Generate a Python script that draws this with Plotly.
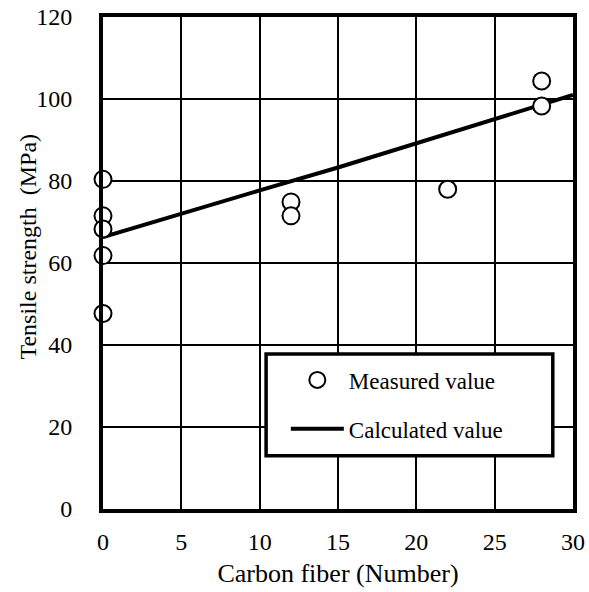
import plotly.graph_objects as go

# Measured values
meas_x = [0, 0, 0, 0, 0, 12, 12, 22, 28, 28]
meas_y = [80.4, 71.5, 68.3, 61.8, 47.7, 74.9, 71.5, 78.0, 104.4, 98.3]

# Calculated values
calc_x = [0, 5, 10, 15, 20, 25, 30]
calc_y = [66.3, 72.1, 77.7, 83.3, 89.2, 94.9, 101.0]

x_ticks = [0, 5, 10, 15, 20, 25, 30]
y_ticks = [0, 20, 40, 60, 80, 100, 120]

x_title = "Carbon fiber (Number)"
y_title = "Tensile strength\u00a0 (MPa)"

FONT = "Liberation Serif, Times New Roman, serif"

fig = go.Figure()
fig.add_trace(go.Scatter(
    x=calc_x, y=calc_y, mode="lines", name="Calculated value",
    line=dict(color="black", width=4), legendgroup="b", legendrank=2,
    cliponaxis=False,
))
fig.add_trace(go.Scatter(
    x=meas_x, y=meas_y, mode="markers", name="Measured value",
    marker=dict(symbol="circle", size=17, color="white",
                line=dict(color="black", width=2)),
    legendgroup="a", legendrank=1, cliponaxis=False,
))

fig.update_layout(
    width=589, height=592,
    margin=dict(l=103, r=16, t=17, b=83),
    paper_bgcolor="white", plot_bgcolor="white",
    font=dict(family=FONT, size=24, color="black"),
    showlegend=True,
    legend=dict(
        x=0.389, y=0.306, xanchor="left", yanchor="top",
        bgcolor="rgba(0,0,0,0)", borderwidth=0,
        font=dict(family=FONT, size=23, color="black"),
        itemwidth=53, tracegroupgap=16,
    ),
    shapes=[dict(
        type="rect", xref="paper", yref="paper",
        x0=0.347, x1=0.957, y0=0.108, y1=0.315,
        fillcolor="white", line=dict(color="black", width=3.5),
        layer="above",
    )],
    annotations=[dict(
        text=y_title, xref="paper", yref="paper",
        x=-0.16, y=0.533, xanchor="center", yanchor="middle",
        textangle=-90, showarrow=False,
        font=dict(family=FONT, size=24, color="black"),
    )],
)

fig.update_xaxes(
    range=[0, 30], tickvals=x_ticks, ticktext=[str(v) for v in x_ticks],
    showgrid=True, gridcolor="black", gridwidth=2,
    showline=True, linecolor="black", linewidth=4, mirror=True,
    zeroline=False, ticks="", ticklabelstandoff=8, automargin=False,
    tickfont=dict(family=FONT, size=24, color="black"),
    title=dict(text=x_title, standoff=11,
               font=dict(family=FONT, size=26, color="black")),
)
fig.update_yaxes(
    range=[0, 120], tickvals=y_ticks, ticktext=[str(v) for v in y_ticks],
    showgrid=True, gridcolor="black", gridwidth=2,
    showline=True, linecolor="black", linewidth=4, mirror=True,
    zeroline=False, ticks="", ticklabelstandoff=22, automargin=False,
    tickfont=dict(family=FONT, size=24, color="black"),
)

fig.write_html("out.html", config={"displayModeBar": False},
               post_script="document.body.style.margin='0';")
